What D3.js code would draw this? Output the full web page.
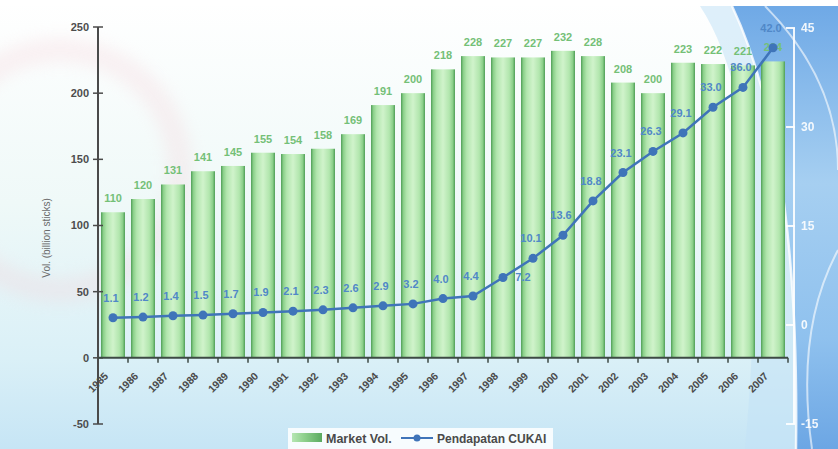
<!DOCTYPE html>
<html>
<head>
<meta charset="utf-8">
<script src="https://cdn.jsdelivr.net/npm/d3@7"></script>
<style>
  html, body { margin: 0; padding: 0; background: #fff; }
  svg { display: block; font-family: "Liberation Sans", Arial, sans-serif; }
</style>
</head>
<body>
<svg id="chart" width="838" height="449"></svg>
<script>
// Annual market volume (billion sticks) and excise revenue (Pendapatan CUKAI)
const years = ["1985","1986","1987","1988","1989","1990","1991","1992","1993","1994","1995","1996",
               "1997","1998","1999","2000","2001","2002","2003","2004","2005","2006","2007"];
const marketVol = [110,120,131,141,145,155,154,158,169,191,200,218,228,227,227,232,228,208,200,223,222,221,224];
const cukai = [1.1,1.2,1.4,1.5,1.7,1.9,2.1,2.3,2.6,2.9,3.2,4.0,4.4,7.2,10.1,13.6,18.8,23.1,26.3,29.1,33.0,36.0,42.0];
const leftTicks = [-50,0,50,100,150,200,250];
const rightTicks = [-15,0,15,30,45];
const seriesNames = ["Market Vol.", "Pendapatan CUKAI"];

const W = 838, H = 449;
const svg = d3.select("#chart");
const defs = svg.append("defs");

// ---- background ----
const bgGrad = defs.append("linearGradient").attr("id","bg").attr("x1",0).attr("y1",0).attr("x2",0).attr("y2",1);
bgGrad.append("stop").attr("offset","0%").attr("stop-color","#ffffff");
bgGrad.append("stop").attr("offset","45%").attr("stop-color","#eff9f8");
bgGrad.append("stop").attr("offset","80%").attr("stop-color","#daf0f7");
bgGrad.append("stop").attr("offset","100%").attr("stop-color","#c6e5f5");

const blueGrad = defs.append("linearGradient").attr("id","blueSide").attr("x1",0).attr("y1",0).attr("x2",0).attr("y2",1);
blueGrad.append("stop").attr("offset","0%").attr("stop-color","#6fa9e6");
blueGrad.append("stop").attr("offset","40%").attr("stop-color","#a6cff1");
blueGrad.append("stop").attr("offset","75%").attr("stop-color","#8fc1ee");
blueGrad.append("stop").attr("offset","100%").attr("stop-color","#6ca6e4");

const soft = defs.append("filter").attr("id","soft").attr("x","-20%").attr("y","-20%").attr("width","140%").attr("height","140%");
soft.append("feGaussianBlur").attr("stdDeviation", 8);

svg.append("rect").attr("width",W).attr("height",H).attr("fill","url(#bg)");
// faint rose ring on the left
svg.append("circle").attr("cx",60).attr("cy",170).attr("r",120)
  .attr("fill","none").attr("stroke","#f5cfd6").attr("stroke-width",24).attr("opacity",0.28).attr("filter","url(#soft)");
// blue band on the right
svg.append("path").attr("d","M732,6 Q800,150 796,449 L838,449 L838,6 Z").attr("fill","url(#blueSide)");
svg.append("path").attr("d","M700,6 Q775,120 745,449 L796,449 Q800,150 732,6 Z").attr("fill","#c3e1f5").attr("opacity",0.55);
svg.append("path").attr("d","M732,6 Q800,150 796,449").attr("fill","none").attr("stroke","#ffffff").attr("stroke-width",2.5).attr("opacity",0.8);
svg.append("path").attr("d","M765,6 Q838,80 838,170").attr("fill","none").attr("stroke","#ffffff").attr("stroke-width",2).attr("opacity",0.6);
svg.append("path").attr("d","M838,250 Q795,330 812,449").attr("fill","none").attr("stroke","#ffffff").attr("stroke-width",2).attr("opacity",0.6);
// white strip along the top edge
svg.append("rect").attr("width",W).attr("height",6).attr("fill","#ffffff");

// ---- scales ----
const x = d3.scaleBand().domain(years).range([98, 788]).paddingInner(0.2).paddingOuter(0.1);
const yL = d3.scaleLinear().domain([-50, 250]).range([424, 27]);
const yR = d3.scaleLinear().domain([-15, 45]).range([424, 28]);

// ---- bars ----
const barGrad = defs.append("linearGradient").attr("id","bar").attr("x1",0).attr("y1",0).attr("x2",1).attr("y2",0);
[["0%","#4f9e57"],["10%","#8cd08b"],["24%","#b2e6ae"],["50%","#d0f3cb"],["76%","#b2e6ae"],["90%","#8cd08b"],["100%","#4f9e57"]]
  .forEach(([o,c]) => barGrad.append("stop").attr("offset",o).attr("stop-color",c));

svg.append("g").selectAll("rect").data(marketVol).join("rect")
  .attr("x",(d,i)=>x(years[i]))
  .attr("y",d=>yL(d))
  .attr("width",x.bandwidth())
  .attr("height",d=>yL(0)-yL(d))
  .attr("fill","url(#bar)");

svg.append("g").selectAll("text").data(marketVol).join("text")
  .attr("x",(d,i)=>x(years[i])+x.bandwidth()/2)
  .attr("y",d=>yL(d)-10)
  .attr("text-anchor","middle")
  .attr("font-size",11).attr("font-weight","bold")
  .attr("fill","#74c077")
  .text(d=>d);

// ---- left axis ----
const gL = svg.append("g");
gL.append("line").attr("x1",98).attr("x2",98).attr("y1",yL(250)).attr("y2",yL(-50))
  .attr("stroke","#4a4a4a").attr("stroke-width",2);
gL.selectAll("line.t").data(leftTicks).join("line").attr("class","t")
  .attr("x1",93).attr("x2",103).attr("y1",d=>yL(d)).attr("y2",d=>yL(d))
  .attr("stroke","#4a4a4a").attr("stroke-width",1.5);
gL.selectAll("text").data(leftTicks).join("text")
  .attr("x",89).attr("y",d=>yL(d)).attr("dy","0.35em")
  .attr("text-anchor","end").attr("font-size",11).attr("font-weight","bold").attr("fill","#4d4d4d")
  .text(d=>d);
svg.append("text").attr("transform","translate(50,238) rotate(-90)")
  .attr("text-anchor","middle").attr("font-size",10).attr("fill","#6a6a6a")
  .text("Vol. (billion sticks)");

// ---- x axis ----
const y0 = yL(0);
svg.append("line").attr("x1",98).attr("x2",788).attr("y1",y0).attr("y2",y0)
  .attr("stroke","#3d4a44").attr("stroke-width",2);
svg.append("g").selectAll("line").data(years).join("line")
  .attr("x1",d=>x(d)+x.bandwidth()+x.step()*x.paddingInner()/2)
  .attr("x2",d=>x(d)+x.bandwidth()+x.step()*x.paddingInner()/2)
  .attr("y1",y0).attr("y2",y0+5)
  .attr("stroke","#3d4a44").attr("stroke-width",1.5);
svg.append("g").selectAll("text").data(years).join("text")
  .attr("transform",d=>`translate(${x(d)+x.bandwidth()/2-4},${y0+19}) rotate(-45)`)
  .attr("text-anchor","end").attr("font-size",10.5).attr("font-weight","bold").attr("fill","#4a4a4a")
  .text(d=>d);

// ---- right axis ----
const gR = svg.append("g");
gR.append("line").attr("x1",794).attr("x2",794).attr("y1",yR(45)).attr("y2",yR(-15))
  .attr("stroke","#ffffff").attr("stroke-width",2).attr("opacity",0.9);
gR.selectAll("line.t").data(rightTicks).join("line").attr("class","t")
  .attr("x1",786).attr("x2",795).attr("y1",d=>yR(d)).attr("y2",d=>yR(d))
  .attr("stroke","#ffffff").attr("stroke-width",2).attr("opacity",0.9);
gR.selectAll("text").data(rightTicks).join("text")
  .attr("x",801).attr("y",d=>yR(d)).attr("dy","0.35em")
  .attr("font-size",12).attr("font-weight","bold").attr("fill","#ffffff").attr("opacity",0.9)
  .text(d=>d);

// ---- revenue line ----
const cx = (i)=>x(years[i])+x.bandwidth()/2;
const line = d3.line().x((d,i)=>cx(i)).y(d=>yR(d));
svg.append("path").datum(cukai).attr("d",line)
  .attr("fill","none").attr("stroke","#3f74b9").attr("stroke-width",2.5);
svg.append("g").selectAll("circle").data(cukai).join("circle")
  .attr("cx",(d,i)=>cx(i)).attr("cy",d=>yR(d)).attr("r",4.5)
  .attr("fill","#3f74b9");
svg.append("g").selectAll("text").data(cukai).join("text")
  .attr("x",(d,i)=> years[i]==="1998" ? cx(i)+20 : cx(i)-2)
  .attr("y",(d,i)=> years[i]==="1998" ? yR(d)+4 : yR(d)-16)
  .attr("text-anchor","middle")
  .attr("font-size",11).attr("font-weight","bold").attr("fill","#5088c8")
  .text(d=>d.toFixed(1));

// ---- legend ----
const lg = svg.append("g");
lg.append("rect").attr("x",288).attr("y",428).attr("width",265).attr("height",21).attr("fill","#ffffff").attr("opacity",0.85);
const swGrad = defs.append("linearGradient").attr("id","sw").attr("x1",0).attr("y1",0).attr("x2",1).attr("y2",0);
[["0%","#b6e6b3"],["40%","#8fd18e"],["100%","#5aaa60"]].forEach(([o,c])=>swGrad.append("stop").attr("offset",o).attr("stop-color",c));
lg.append("rect").attr("x",292).attr("y",433).attr("width",30).attr("height",9).attr("fill","url(#sw)");
lg.append("text").attr("x",326).attr("y",443).attr("font-size",12.5).attr("font-weight","bold").attr("fill","#4a4a4a").text(seriesNames[0]);
lg.append("line").attr("x1",401).attr("x2",433).attr("y1",438).attr("y2",438).attr("stroke","#3f74b9").attr("stroke-width",2);
lg.append("circle").attr("cx",417).attr("cy",438).attr("r",3.5).attr("fill","#3f74b9");
lg.append("text").attr("x",437).attr("y",443).attr("font-size",12).attr("font-weight","bold").attr("fill","#4a4a4a").text(seriesNames[1]);
</script>
</body>
</html>
